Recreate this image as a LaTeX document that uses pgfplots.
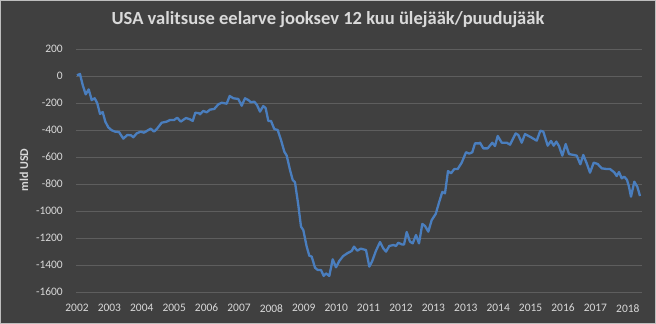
\documentclass[border=0pt]{standalone}
\usepackage{pgfplots}
\pgfplotsset{compat=1.18}
\usepackage{fontspec}
\setmainfont{Carlito}
\definecolor{bgc}{RGB}{64,64,64}
\definecolor{gridc}{RGB}{94,94,94}
\definecolor{txtc}{RGB}{217,217,217}
\definecolor{linec}{RGB}{74,126,190}
\definecolor{framec}{RGB}{190,190,190}
\begin{document}
\begin{tikzpicture}
\fill[bgc,draw=framec,line width=0.8bp] (-75.6bp,-31.6bp) rectangle (579.6bp,291.6bp);
\begin{axis}[
  at={(0,0)}, anchor=south west,
  scale only axis, width=566bp, height=243bp,
  xmin=-1, xmax=565, ymin=-1600, ymax=200,
  axis line style={draw=none},
  tick style={draw=none},
  ymajorgrids, major grid style={color=gridc, line width=0.8bp},
  ytick={-1600,-1400,-1200,-1000,-800,-600,-400,-200,0,200},
  yticklabels={-1600,-1400,-1200,-1000,-800,-600,-400,-200,0,200},
  xtick={0,32.4,64.8,97.2,129.6,162,194.4,226.8,259.2,291.6,324,356.4,388.8,421.2,453.6,486,518.4,550.8},
  xticklabels={2002,2003,2004,2005,2006,2007,2008,2009,2010,2011,2012,2013,2013,2014,2015,2016,2017,2018},
  yticklabel style={font=\fontsize{11.5}{13}\selectfont, color=txtc, inner sep=0pt, anchor=east, xshift=-13bp},
  xticklabel style={font=\fontsize{11.5}{13}\selectfont, color=txtc, inner sep=0pt, anchor=north, yshift=-12bp},
  clip=false,
]
\addplot[color=linec, line width=2.3bp, line join=round, mark=none] coordinates {
(0,5) (3,15) (5.7,-67) (8.7,-136) (11.7,-99) (14.7,-178) (17.7,-165) (20.3,-202)
(23,-281) (25.7,-267) (28.3,-338) (31.3,-380) (34.7,-402) (38,-412) (42,-415)
(46.3,-464) (50.3,-437) (54,-439) (56.3,-454) (59.7,-425) (63.7,-412) (67,-420)
(70.3,-405) (73.7,-390) (77,-412) (80.3,-388) (84.7,-346) (89.7,-338) (93,-326)
(97,-326) (100.3,-309) (103.7,-338) (109,-311) (113,-321) (115.7,-333) (118.3,-272)
(122.3,-276) (123,-284) (126.3,-259) (129.7,-269) (133,-249) (137.3,-244) (141.3,-210)
(144.7,-198) (149.7,-205) (152.7,-148) (156.3,-165) (161.3,-170) (164.7,-220) (168,-165)
(171.3,-178) (174,-195) (177.3,-190) (180,-215) (183,-264) (186.3,-222) (188.7,-239)
(191.3,-333) (194,-333) (197.3,-393) (200.7,-400) (204,-474) (207.3,-560) (209.7,-590)
(213,-696) (215.7,-770) (218,-788) (221.3,-956) (224,-1116) (226.3,-1141) (229.7,-1264)
(232.3,-1331) (234.7,-1338) (238,-1420) (240.7,-1437) (244,-1437) (246.7,-1481) (249,-1462)
(252.3,-1481) (255.7,-1358) (259,-1417) (262.3,-1370) (265.7,-1338) (266.3,-1333)
(270.3,-1313) (274.7,-1296) (277,-1264) (280.3,-1294) (283.7,-1279) (289,-1289)
(292.3,-1412) (295,-1375) (299,-1294) (303,-1230) (306.3,-1277) (309,-1301) (312.3,-1259)
(316.3,-1252) (319,-1259) (321.3,-1235) (324.7,-1247) (327,-1249) (329.7,-1156) (333,-1227)
(335.7,-1240) (339,-1178) (342,-1240) (345.3,-1096) (348,-1111) (351.3,-1153) (354.7,-1067)
(358.7,-1022) (362,-938) (365.3,-859) (368,-869) (371,-704) (374,-721) (377.3,-689)
(380.7,-689) (384.7,-642) (389,-565) (392.3,-575) (395.3,-565) (398,-499) (402.3,-499)
(403,-494) (406.3,-536) (410.7,-536) (415.3,-494) (418,-519) (420.7,-444) (424.7,-494)
(429.7,-494) (433,-509) (438.7,-425) (441.3,-437) (444.7,-494) (448,-430) (454,-454)
(459.7,-479) (463.3,-405) (466.3,-412) (470.7,-516) (474,-481) (476.7,-516) (479.3,-486)
(482,-519) (485.3,-590) (488.7,-504) (492,-578) (496.7,-585) (499.7,-590) (503.3,-654)
(506.3,-585) (509.7,-647) (513,-716) (516.7,-642) (520.7,-652) (524.7,-684) (529.7,-689)
(533,-689) (537.3,-714) (539.7,-741) (542,-711) (544.7,-758) (547.3,-746) (550,-770)
(552,-820) (554,-894) (557.3,-783) (560.3,-820) (563,-889)
};
\end{axis}
\node[color=txtc, font=\fontsize{18.6}{20}\selectfont\bfseries] at (252bp,272bp) {USA valitsuse eelarve jooksev 12 kuu ülejääk/puudujääk};
\node[color=txtc, font=\fontsize{12}{13}\selectfont\bfseries, rotate=90] at (-52bp,122bp) {mld USD};
\end{tikzpicture}
\end{document}
